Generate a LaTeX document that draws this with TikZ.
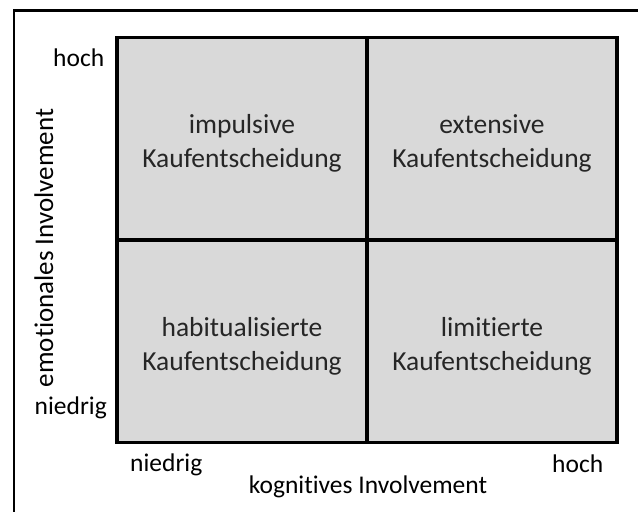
\documentclass[tikz,border=0pt]{standalone}
\usepackage{fontspec}
\setmainfont{Carlito}[Ligatures=NoCommon]
\definecolor{cellgray}{HTML}{D9D9D9}
\definecolor{celltext}{HTML}{262626}
\begin{document}
\begin{tikzpicture}[x=1pt,y=-1pt,
  cell/.style={draw=black,fill=cellgray,line width=3.5pt,minimum width=250pt,minimum height=202.5pt,inner sep=0pt},
  celltxt/.style={align=center,text=celltext,font=\fontsize{27.5}{34}\selectfont,yshift=-5pt},
  axislbl/.style={font=\fontsize{25.5}{30}\selectfont,inner sep=0pt,text=black}]
\useasboundingbox (0,0) rectangle (638,512);
% outer frame
\draw[line width=2.3pt] (14,10.5) rectangle (680,560);
% four quadrants
\node[cell] (q1) at (242,138.5) {};
\node[cell] (q2) at (492,138.5) {};
\node[cell] (q3) at (242,341) {};
\node[cell] (q4) at (492,341) {};
\node[celltxt] (t1) at (q1.center) {impulsive\\Kaufentscheidung};
\node[celltxt] (t2) at (q2.center) {extensive\\Kaufentscheidung};
\node[celltxt] (t3) at (q3.center) {habitualisierte\\Kaufentscheidung};
\node[celltxt] (t4) at (q4.center) {limitierte\\Kaufentscheidung};
% axis labels
\node[axislbl,anchor=base west] (yhi) at (53,66) {hoch};
\node[axislbl,anchor=base east] (ylo) at (107,414) {niedrig};
\node[axislbl,anchor=base west] (xlo) at (130,471) {niedrig};
\node[axislbl,anchor=base west] (xhi) at (552,472) {hoch};
\node[axislbl,anchor=base] (xname) at (368,493) {kognitives Involvement};
\node[axislbl,anchor=base,rotate=90,font=\fontsize{27}{32}\selectfont] (yname) at (53,248) {emotionales Involvement};
\end{tikzpicture}
\end{document}
